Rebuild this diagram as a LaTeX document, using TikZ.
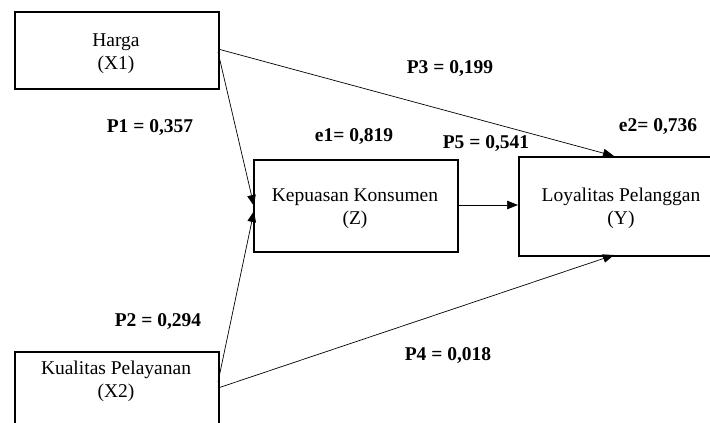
\documentclass[tikz,border=0pt]{standalone}
\usepackage{fontspec}
\setmainfont{Liberation Serif}
\usetikzlibrary{arrows.meta}
\tikzset{
  boxshape/.style={draw=black, line width=1.8pt, rectangle, inner sep=0pt},
  txt/.style={align=center, font=\fontsize{19.5}{23}\selectfont, inner sep=0pt},
  lbl/.style={font=\fontsize{19.5}{23}\selectfont\bfseries, inner sep=0pt},
  conn/.style={draw=black, line width=0.7pt, -{Triangle[length=11pt,width=8.5pt]}},
}
\begin{document}
\begin{tikzpicture}[x=1pt,y=-1pt]
\useasboundingbox (0,0) rectangle (710,423);
\clip (0,0) rectangle (710,423);
% boxes
\node[boxshape, minimum width=204pt, minimum height=77pt, anchor=north west] (harga) at (14,11) {};
\node[txt] (hargat) at (116,53.5) {Harga\\(X1)};
\node[boxshape, minimum width=204pt, minimum height=92pt, anchor=north west] (kep) at (253,159) {};
\node[txt] (kept) at (355,209) {Kepuasan Konsumen\\(Z)};
\node[boxshape, minimum width=206pt, minimum height=99pt, anchor=north west] (loy) at (518,156) {};
\node[txt] (loyt) at (621,208) {Loyalitas Pelanggan\\(Y)};
\node[boxshape, minimum width=204pt, minimum height=95pt, anchor=north west] (kual) at (14,351) {};
\node[txt] (kualt) at (116,381) {Kualitas Pelayanan\\(X2)};
% connector endpoints
\coordinate (h1) at (218,49);
\coordinate (h2) at (218,52);
\coordinate (k1) at (218,382);
\coordinate (k2) at (218,388);
\coordinate (kepin1) at (254,206);
\coordinate (kepin2) at (254,211);
\coordinate (loytop) at (614,156);
\coordinate (loybot) at (614,255);
\coordinate (kepout) at (457,205);
\coordinate (loyin) at (518,205);
% connectors
\draw[conn] (h2) -- (kepin1);
\draw[conn] (k1) -- (kepin2);
\draw[conn] (h1) -- (loytop);
\draw[conn] (k2) -- (loybot);
\draw[conn] (kepout) -- (loyin);
% labels
\node[lbl] (p1) at (150,128) {P1 = 0,357};
\node[lbl] (p2) at (158,322) {P2 = 0,294};
\node[lbl] (p3) at (450,69) {P3 = 0,199};
\node[lbl] (p4) at (448,356) {P4 = 0,018};
\node[lbl] (p5) at (486,144) {P5 = 0,541};
\node[lbl] (e1) at (354,137) {e1= 0,819};
\node[lbl] (e2) at (658,127) {e2= 0,736};
\end{tikzpicture}
\end{document}
